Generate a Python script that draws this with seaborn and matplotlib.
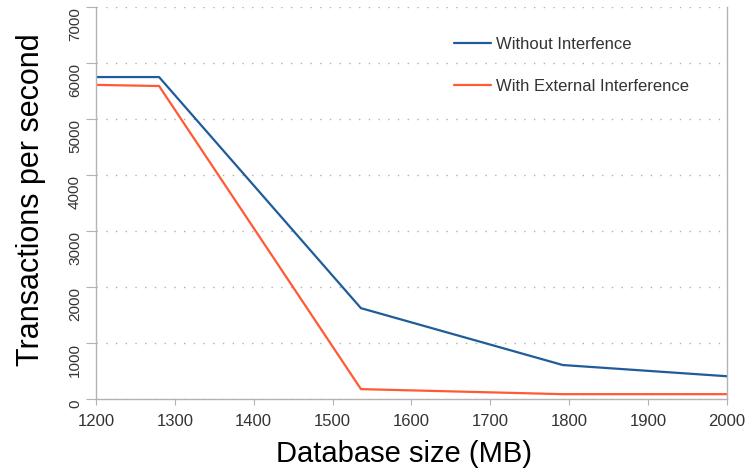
import matplotlib
matplotlib.use("Agg")
import matplotlib.pyplot as plt
import seaborn as sns
import pandas as pd

db_size = [1200, 1280, 1536, 1792, 2000]
without_interf = [5750, 5750, 1625, 610, 410]
with_external = [5610, 5590, 180, 90, 90]
series_names = ["Without Interfence", "With External Interference"]
colors = ["#1f5c99", "#ff5a33"]

df = pd.concat([
    pd.DataFrame({"x": db_size, "y": without_interf, "s": series_names[0]}),
    pd.DataFrame({"x": db_size, "y": with_external, "s": series_names[1]}),
])

sns.set_style("white")
plt.rcParams["font.family"] = ["Liberation Sans", "DejaVu Sans"]

fig = plt.figure(figsize=(7.47, 4.68), dpi=100)
ax = fig.add_axes([0.1285, 0.147, 0.8445, 0.838])
sns.lineplot(data=df, x="x", y="y", hue="s", palette=colors, ax=ax, linewidth=1.6, legend=True)

ax.set_xlim(1200, 2000)
ax.set_ylim(0, 7000)
ax.set_xticks(range(1200, 2001, 100))
ax.set_yticks(range(0, 7001, 1000))
ax.grid(axis="y", color="#b0b0b0", linestyle=(0, (1, 6)), linewidth=1)
ax.set_axisbelow(True)
for s in ["left", "bottom", "right"]:
    ax.spines[s].set_color("#b3b3b3")
    ax.spines[s].set_linewidth(1)
ax.spines["top"].set_visible(False)
ax.tick_params(axis="x", length=4.5, pad=6, color="#b3b3b3", labelsize=12, labelcolor="#333333",
               direction="out", bottom=True)
ax.tick_params(axis="y", length=7, pad=3, color="#b3b3b3", labelsize=11, labelcolor="#333333",
               direction="out", left=True)
plt.setp(ax.get_yticklabels(), rotation=90, va="top")
ax.set_xlabel("Database size (MB)", fontsize=21, color="black", labelpad=8, x=0.489)
ax.set_ylabel("Transactions per second", fontsize=22, color="black", labelpad=16, y=0.51)

h, l = ax.get_legend_handles_labels()
ax.legend(h, l, loc="upper left", bbox_to_anchor=(0.544, 0.962), frameon=False, fontsize=12,
          labelspacing=1.6, handlelength=2.2, handletextpad=0.3, labelcolor="#333333")

fig.savefig("out.png", dpi=100)
